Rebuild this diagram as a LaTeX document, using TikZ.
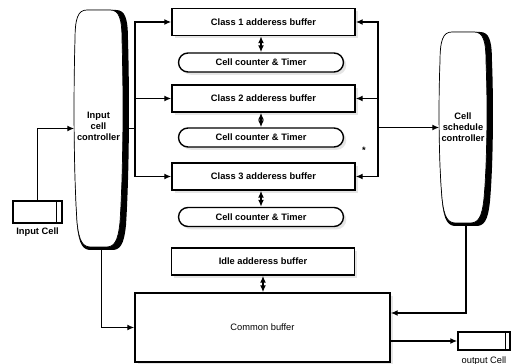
\documentclass[tikz,border=0pt]{standalone}
\usepackage{fontspec}
\setmainfont{Liberation Sans}
\usetikzlibrary{positioning,shapes.misc,shadows,arrows.meta,backgrounds,calc}

% outline of a controller, around (0,0): half width, half height
\newcommand{\barrel}[2]{%
  ({-#1+12},{-#2}) -- ({#1-12},{-#2})
  .. controls ({#1-3},{-#2}) and (#1,{-#2+8}) .. (#1,{-#2+30})
  .. controls ({#1+1.5},{-#2/3}) and ({#1+1.5},{#2/3}) .. ({#1-2},{#2-25})
  .. controls ({#1-4},{#2-5}) and ({#1-8},#2) .. ({#1-16},#2)
  -- ({-#1+16},#2)
  .. controls ({-#1+8},#2) and ({-#1+4},{#2-5}) .. ({-#1+2},{#2-25})
  .. controls ({-#1-1.5},{#2/3}) and ({-#1-1.5},{-#2/3}) .. ({-#1},{-#2+30})
  .. controls ({-#1},{-#2+8}) and ({-#1+3},{-#2}) .. ({-#1+12},{-#2}) -- cycle}

\begin{document}
\begin{tikzpicture}
  [x=0.02cm, y=-0.02cm, line width=0.8pt, >={Latex[length=4pt,width=3.4pt]},
   font=\fontsize{5.3}{6.3}\selectfont\bfseries,
   regular/.style={font=\fontsize{5.3}{6.3}\selectfont},
   shade box/.style={drop shadow={shadow xshift=1.6pt, shadow yshift=-1.6pt, fill=gray!40}},
   buffer/.style={rectangle, draw, fill=white, inner sep=0pt, shade box,
     minimum width=3.66cm, minimum height=0.54cm},
   counter/.style={rounded rectangle, draw, fill=white, inner sep=0pt, shade box,
     minimum width=3.3cm, minimum height=0.38cm},
   ctrl/.style={inner sep=0pt, minimum width=1.06cm},
   cell/.style={rectangle, draw, fill=white, inner sep=0pt}]
  \useasboundingbox (0,0) rectangle (511,364);

  \node[buffer] (c1) at (263.5,22) {Class 1 adderess buffer};
  \node[counter] (t1) at (261,62.5) {Cell counter \& Timer};
  \node[buffer] (c2) at (263.5,98.5) {Class 2 adderess buffer};
  \node[counter] (t2) at (261,137.5) {Cell counter \& Timer};
  \node[buffer] (c3) at (263.5,176.5) {Class 3 adderess buffer};
  \node[counter] (t3) at (261,217) {Cell counter \& Timer};
  \node[buffer] (idle) at (263,261.5) {Idle adderess buffer};
  \node[buffer, regular, minimum width=5.1cm, minimum height=1.38cm] (cb) at (262.5,327.5) {Common buffer};

  \node[ctrl, minimum height=4.74cm] (ic) at (101.5,128.5) {};
  \node[ctrl, minimum width=1.04cm, minimum height=3.82cm] (sc) at (466,127.5) {};

  \begin{scope}[on background layer]
    \fill[shift={($(ic.center)+(0,1.5)$)}] \barrel{26.5}{120};
    \filldraw[fill=white, shift={($(ic.center)+(-3,0)$)}] \barrel{23.5}{118.5};
    \fill[shift={($(sc.center)+(0,1.5)$)}] \barrel{26}{97};
    \filldraw[fill=white, shift={($(sc.center)+(-3,0)$)}] \barrel{23}{95.5};
  \end{scope}
  \node[align=center] (ictext) at ($(ic.center)+(-3,-2)$) {Input\\cell\\controller};
  \node[align=center] (sctext) at ($(sc.center)+(-3,0)$) {Cell\\schedule\\controller};

  \node[cell, minimum width=0.98cm, minimum height=0.44cm] (inc) at (37.5,212) {};
  \draw ([xshift=-0.12cm]inc.north east) -- ([xshift=-0.12cm]inc.south east);
  \node[inner sep=0pt, below=2pt of inc] (inlab) {Input Cell};
  \node[cell, minimum width=1.04cm, minimum height=0.36cm] (oc) at (484,341) {};
  \draw ([xshift=-0.1cm]oc.north east) -- ([xshift=-0.1cm]oc.south east);
  \node[regular, inner sep=0pt, below=3pt of oc] (outlab) {output Cell};

  \node (dot) at (364,150) {*};

  \coordinate (lbus) at (135,128.5);
  \coordinate (rbus) at (378,127.5);

  \draw[->] (inc.north) |- (ic.west);
  \draw[->] (ic.east) -- (lbus) |- (c1.west);
  \draw[->] (lbus) |- (c2.west);
  \draw[->] (lbus) |- (c3.west);
  \draw[->] (rbus) |- (c1.east);
  \draw[->] (rbus) |- (c2.east);
  \draw[->] (rbus) |- (c3.east);
  \draw[->] (rbus) -- (sc.west);
  \draw[<->] (c1.south -| t1.north) -- (t1.north);
  \draw[<->] (c2.south -| t2.north) -- (t2.north);
  \draw[<->] (c3.south -| t3.north) -- (t3.north);
  \draw[<->] (idle.south) -- (idle.south |- cb.north);
  \draw[->] (ic.south) |- (cb.west);
  \draw[->] (sc.south) |- ([yshift=0.29cm]cb.east);
  \draw[->] (cb.east |- oc.west) -- (oc.west);
\end{tikzpicture}
\end{document}
